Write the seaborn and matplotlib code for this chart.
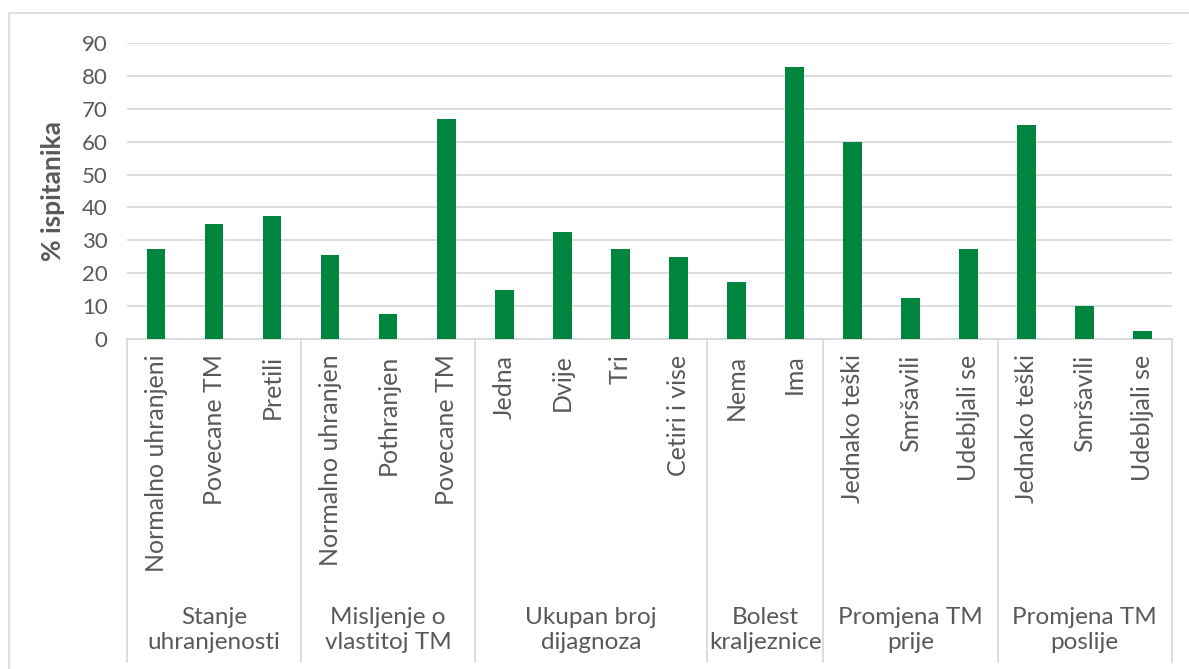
import pandas as pd
import matplotlib
matplotlib.use("Agg")
import matplotlib.pyplot as plt
import matplotlib.patches as patches
import seaborn as sns

# podaci procitani sa grafikona
groups = ["Stanje\nuhranjenosti", "Misljenje o\nvlastitoj TM", "Ukupan broj\ndijagnoza",
          "Bolest\nkraljeznice", "Promjena TM\nprije", "Promjena TM\nposlije"]
stanje_labels = ["Normalno uhranjeni", "Povecane TM", "Pretili"]
stanje_vals = [27.5, 35.0, 37.5]
misljenje_labels = ["Normalno uhranjen", "Pothranjen", "Povecane TM"]
misljenje_vals = [25.6, 7.7, 66.7]
dijagnoze_labels = ["Jedna", "Dvije", "Tri", "Cetiri i vise"]
dijagnoze_vals = [15.0, 32.5, 27.5, 25.0]
bolest_labels = ["Nema", "Ima"]
bolest_vals = [17.5, 82.5]
prije_labels = ["Jednako teški", "Smršavili", "Udebljali se"]
prije_vals = [60.0, 12.5, 27.5]
poslije_labels = ["Jednako teški", "Smršavili", "Udebljali se"]
poslije_vals = [65.0, 10.0, 2.5]

all_labels = [stanje_labels, misljenje_labels, dijagnoze_labels, bolest_labels, prije_labels, poslije_labels]
all_vals = [stanje_vals, misljenje_vals, dijagnoze_vals, bolest_vals, prije_vals, poslije_vals]

rows = []
for g, labs, vals in zip(groups, all_labels, all_vals):
    for l, v in zip(labs, vals):
        rows.append({"grupa": g, "kategorija": l, "vrijednost": v})
df = pd.DataFrame(rows)
df["slot"] = [str(i) for i in range(len(df))]

sns.set_style("white")
plt.rcParams['font.family'] = ['Lato', 'DejaVu Sans']
siva = "#595959"
linija = "#d9d9d9"

fig = plt.figure(figsize=(11.89, 6.69), dpi=100)
ax = fig.add_axes([127 / 1189, 1 - 339.3 / 669, (1171.7 - 127) / 1189, (339.3 - 42.7) / 669])

sns.barplot(data=df, x="slot", y="vrijednost", order=list(df["slot"]), color="#00853E",
            width=0.32, saturation=1, ax=ax, zorder=3)
for p in ax.patches:
    p.set_edgecolor("none")

ax.set_ylim(0, 90)
ax.set_xlim(-0.5, len(df) - 0.5)
ax.set_yticks(range(0, 91, 10))
ax.yaxis.grid(True, color=linija, linewidth=1.3, zorder=0)
ax.set_axisbelow(True)
for s in ["top", "right", "left"]:
    ax.spines[s].set_visible(False)
ax.spines["bottom"].set_color(linija)
ax.spines["bottom"].set_linewidth(1.3)

ax.set_xticks(range(len(df)))
ax.set_xticklabels(df["kategorija"], rotation=90, fontsize=18, color=siva, va="top", ha="center")
ax.tick_params(axis="x", length=0, pad=11)
ax.tick_params(axis="y", length=0, pad=14, labelsize=16, labelcolor=siva)
ax.set_xlabel("")
ax.set_ylabel("% ispitanika", fontsize=19, fontweight="bold", color=siva, labelpad=12)

# granice grupa i nazivi grupa
bot = (339.3 - 662) / (339.3 - 42.7)
trans = ax.get_xaxis_transform()
start = 0
granice = [-0.5]
for labs in all_labels:
    start += len(labs)
    granice.append(start - 0.5)
for b in granice:
    ax.plot([b, b], [0, bot], transform=trans, color=linija, lw=1.3, clip_on=False)
yg = (339.3 - 630) / (339.3 - 42.7)
for i, g in enumerate(groups):
    xc = (granice[i] + granice[i + 1]) / 2
    ax.text(xc, yg, g, transform=trans, ha="center", va="center", fontsize=17.5,
            color=siva, linespacing=1.25)

# okvir grafikona
fig.patches.append(patches.Rectangle((9 / 1189, -0.05), 1.1, 1 - 13 / 669 + 0.05,
                                     transform=fig.transFigure, fill=False,
                                     edgecolor=linija, lw=1.2))

fig.savefig("out.png", dpi=100)
